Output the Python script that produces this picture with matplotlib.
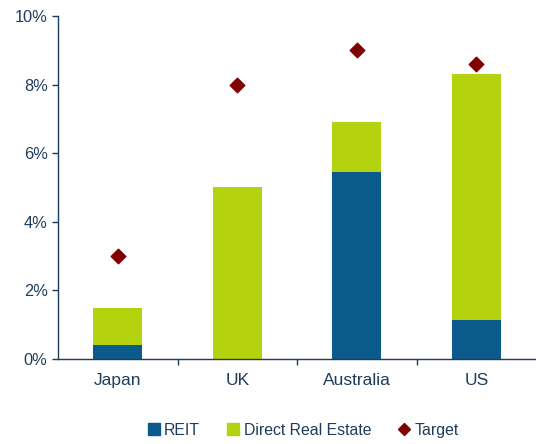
import numpy as np
import matplotlib
matplotlib.use("Agg")
import matplotlib.pyplot as plt
from matplotlib.lines import Line2D
from matplotlib.ticker import FuncFormatter, FixedLocator

# ---- data ----
countries = ["Japan", "UK", "Australia", "US"]
reit = [0.4, 0.0, 5.45, 1.15]
direct = [1.1, 5.0, 1.45, 7.15]
target = [3.0, 8.0, 9.0, 8.6]

c_reit = "#0A5A8C"
c_direct = "#B5D20E"
c_target = "#800000"
c_text = "#1F3D5A"

plt.rcParams["font.family"] = ["Liberation Sans", "DejaVu Sans"]

fig = plt.figure(figsize=(5.36, 4.44), dpi=100)
ax = fig.add_axes([58/536, 1-359/444, 1-58/536, (359-16)/444])

x = np.arange(len(countries))
w = 0.41
ax.bar(x, reit, w, color=c_reit, zorder=2)
ax.bar(x, direct, w, bottom=reit, color=c_direct, zorder=2)
ax.scatter(x, target, marker="D", s=55, color=c_target, zorder=3)

ax.set_xlim(-0.5, 3.5)
ax.set_ylim(0, 10)
ax.set_yticks(np.arange(0, 11, 2))
ax.yaxis.set_major_formatter(FuncFormatter(lambda v, p: f"{v:.0f}%"))
ax.set_xticks(x)
ax.set_xticklabels(countries)
ax.xaxis.set_minor_locator(FixedLocator([0.5, 1.5, 2.5]))

for s in ["top", "right"]:
    ax.spines[s].set_visible(False)
for s in ["left", "bottom"]:
    ax.spines[s].set_color(c_text)
    ax.spines[s].set_linewidth(1.0)

ax.tick_params(axis="y", colors=c_text, labelsize=11.8, length=4, width=1, direction="out")
ax.tick_params(axis="x", which="major", length=0, pad=10, labelsize=12.5, labelcolor=c_text)
ax.tick_params(axis="x", which="minor", length=4, width=1, color=c_text)

handles = [
    Line2D([], [], marker="s", linestyle="none", markersize=8, color=c_reit, label="REIT"),
    Line2D([], [], marker="s", linestyle="none", markersize=8, color=c_direct, label="Direct Real Estate"),
    Line2D([], [], marker="D", linestyle="none", markersize=6, color=c_target, label="Target"),
]
leg = fig.legend(handles=handles, loc="center", bbox_to_anchor=(0.564, 1-430/444), ncol=3,
                 frameon=False, fontsize=11.4, handletextpad=0.15, columnspacing=1.6, handlelength=1.0)
for t in leg.get_texts():
    t.set_color(c_text)

fig.savefig("out.png", dpi=100)
